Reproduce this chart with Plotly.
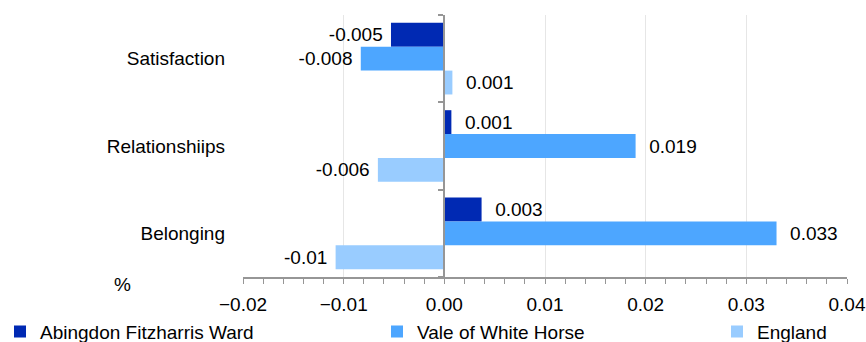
import plotly.graph_objects as go

categories = ["Satisfaction", "Relationshiips", "Belonging"]
series_names = ["Abingdon Fitzharris Ward", "Vale of White Horse", "England"]
abingdon = [-0.0053, 0.0007, 0.0037]
vale = [-0.0083, 0.0190, 0.0330]
england = [0.0008, -0.0066, -0.0108]
abingdon_labels = ["-0.005", "0.001", "0.003"]
vale_labels = ["-0.008", "0.019", "0.033"]
england_labels = ["0.001", "-0.006", "-0.01"]
x_ticks = [-0.02, -0.01, 0.0, 0.01, 0.02, 0.03, 0.04]

colors = ["#0029b3", "#4da6ff", "#99ccff"]
FONT = "Liberation Sans, Arial, sans-serif"
NB = "\u00a0"


def pad(labels, values):
    out = []
    for lab, v in zip(labels, values):
        out.append(NB * 2 + lab if v >= 0 else lab + NB)
    return out


fig = go.Figure()
legend_ids = ["legend", "legend2", "legend3"]
for name, vals, labs, col, lg in zip(series_names, [abingdon, vale, england],
                                     [abingdon_labels, vale_labels, england_labels],
                                     colors, legend_ids):
    fig.add_trace(go.Bar(
        y=categories, x=vals, orientation="h", name=name,
        marker=dict(color=col, line=dict(width=0)),
        text=pad(labs, vals), textposition="outside", cliponaxis=False,
        constraintext="none", textangle=0,
        textfont=dict(family=FONT, size=19, color="#000000"),
        legend=lg, hoverinfo="skip",
    ))

# helper trace to carry the zero-position category axis ticks
fig.add_trace(go.Scatter(x=[None], y=[None], yaxis="y2", showlegend=False,
                         hoverinfo="skip"))

fig.update_layout(
    width=866, height=342,
    margin=dict(l=243, r=19, t=15, b=65, autoexpand=False),
    paper_bgcolor="white", plot_bgcolor="white",
    barmode="group", bargap=0.18, bargroupgap=0,
    font=dict(family=FONT, size=19, color="#000000"),
    xaxis=dict(
        range=[-0.02, 0.04], tickvals=x_ticks, tickformat=".2f",
        showgrid=True, gridcolor="#e6e6e6", gridwidth=1,
        zeroline=False, automargin=False,
        showline=True, linecolor="#969696", linewidth=2,
        ticks="outside", ticklen=5, tickcolor="#969696", tickwidth=1,
        minor=dict(dtick=0.002, ticks="outside", ticklen=5, tickcolor="#969696",
                   tickwidth=1, showgrid=False),
        tickfont=dict(family=FONT, size=19, color="#000000"),
        ticklabelstandoff=4,
        fixedrange=True,
    ),
    yaxis=dict(
        categoryorder="array", categoryarray=categories,
        autorange="reversed", showgrid=False, zeroline=False, showline=False,
        ticks="", ticklabelstandoff=17, automargin=False,
        tickfont=dict(family=FONT, size=19, color="#000000"),
        fixedrange=True,
    ),
    yaxis2=dict(
        overlaying="y", anchor="free", position=1 / 3, side="left",
        range=[2.5, -0.5], tickvals=[-0.5, 0.5, 1.5, 2.5], automargin=False,
        showticklabels=False, ticks="outside", ticklen=5, tickcolor="#969696",
        tickwidth=2, showline=True, linecolor="#969696", linewidth=2,
        showgrid=False, zeroline=False, fixedrange=True,
    ),
    annotations=[dict(text="%", xref="paper", yref="paper", x=-0.1995, y=-0.027,
                      showarrow=False, font=dict(family=FONT, size=19, color="#000000"),
                      xanchor="center", yanchor="middle")],
)

legend_common = dict(orientation="h", xref="container", yref="container",
                     yanchor="middle", y=0.03, bgcolor="rgba(0,0,0,0)",
                     font=dict(family=FONT, size=19, color="#000000"),
                     itemclick=False, itemdoubleclick=False)
fig.update_layout(
    legend=dict(x=0, **legend_common),
    legend2=dict(x=(418 - 41) / 866, **legend_common),
    legend3=dict(x=(758 - 41) / 866, **legend_common),
)

fig.write_html(
    "out.html",
    config={"displayModeBar": False},
    post_script="document.body.style.margin='0';document.body.style.padding='0';",
)
